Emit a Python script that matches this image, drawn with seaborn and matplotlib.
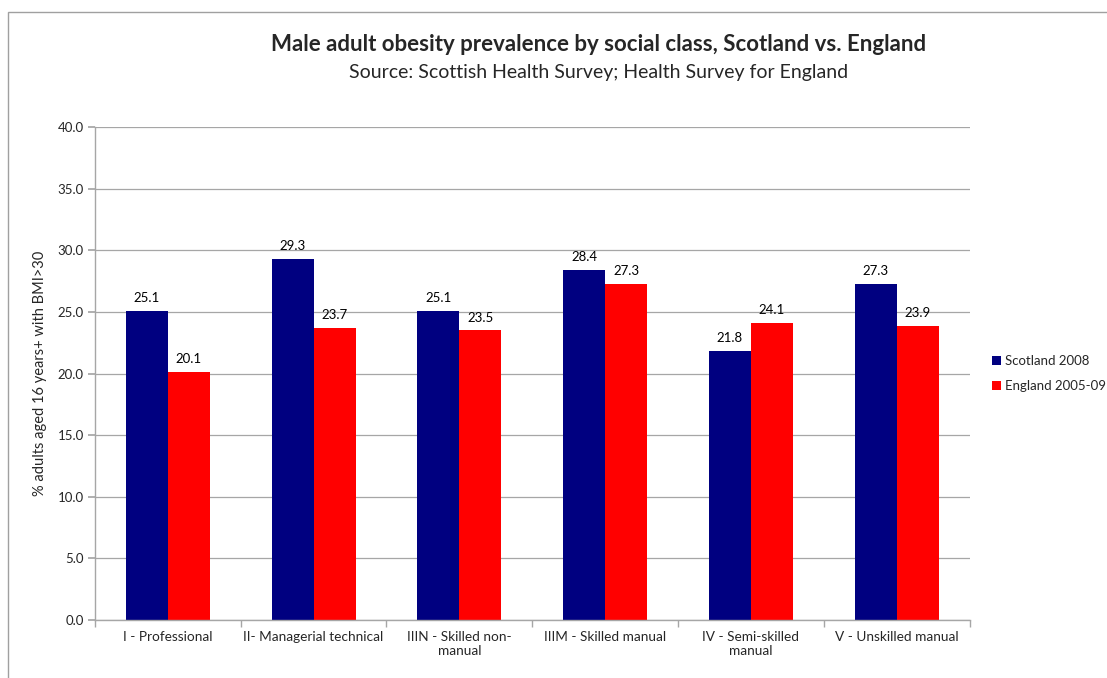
import matplotlib
matplotlib.use("Agg")
import matplotlib.pyplot as plt
import seaborn as sns
import pandas as pd
import numpy as np
from matplotlib.patches import Rectangle
from matplotlib.ticker import FixedLocator

categories = ["I - Professional", "II- Managerial technical", "IIIN - Skilled non-\nmanual",
              "IIIM - Skilled manual", "IV - Semi-skilled\nmanual", "V - Unskilled manual"]
scotland = [25.1, 29.3, 25.1, 28.4, 21.8, 27.3]
england = [20.1, 23.7, 23.5, 27.3, 24.1, 23.9]
series_names = ["Scotland 2008", "England 2005-09"]
colors = ["#000080", "#FF0000"]

df = pd.DataFrame({
    "cat": categories * 2,
    "series": [series_names[0]] * 6 + [series_names[1]] * 6,
    "value": scotland + england,
})

sns.set_theme(style="white")
plt.rcParams['font.family'] = ['Lato', 'DejaVu Sans']

fig = plt.figure(figsize=(11.07, 6.78), dpi=100)
ax = fig.add_axes([0.0858, 0.0855, 0.790, 0.727])

sns.barplot(data=df, x="cat", y="value", hue="series", palette=colors,
            width=0.576, ax=ax, saturation=1, legend=True, errorbar=None,
            linewidth=0)

for cont in ax.containers:
    ax.bar_label(cont, fmt="%.1f", padding=5, fontsize=9.5, color="#000000")

ax.set_ylim(0, 40)
ax.set_xlim(-0.5, 5.5)
ax.set_yticks(np.arange(0, 40.1, 5))
ax.set_yticklabels([f"{v:.1f}" for v in np.arange(0, 40.1, 5)], fontsize=9.5)
ax.yaxis.grid(True, color="#a6a6a6", linewidth=0.9)
ax.set_axisbelow(True)
ax.set_xlabel("")
ax.set_ylabel("% adults aged 16 years+ with BMI>30", fontsize=10.5, labelpad=8)
ax.tick_params(axis="x", which="major", length=0, labelsize=9.8, pad=8)
ax.xaxis.set_minor_locator(FixedLocator(np.arange(-0.5, 6, 1)))
ax.tick_params(axis="x", which="minor", length=5, color="#a6a6a6", direction="out", bottom=True)
ax.tick_params(axis="y", length=5, color="#a6a6a6", direction="out", left=True, pad=3)
for s in ["top", "right"]:
    ax.spines[s].set_visible(False)
for s in ["left", "bottom"]:
    ax.spines[s].set_color("#a6a6a6")
    ax.spines[s].set_linewidth(1.0)

leg = ax.legend(loc="center left", bbox_to_anchor=(1.012, 0.5), frameon=False,
                fontsize=9.5, handlelength=0.7, handleheight=0.7, handletextpad=0.3,
                labelspacing=1.0)

fig.text(0.541, 0.935, "Male adult obesity prevalence by social class, Scotland vs. England",
         ha="center", va="center", fontsize=16, fontweight="bold")
fig.text(0.541, 0.893, "Source: Scottish Health Survey; Health Survey for England",
         ha="center", va="center", fontsize=14)

fig.patches.append(Rectangle((0.0072, -0.5), 1.5, 1.4823, transform=fig.transFigure,
                             fill=False, edgecolor="#a0a0a0", linewidth=1.0))

fig.savefig("out.png", dpi=100)
